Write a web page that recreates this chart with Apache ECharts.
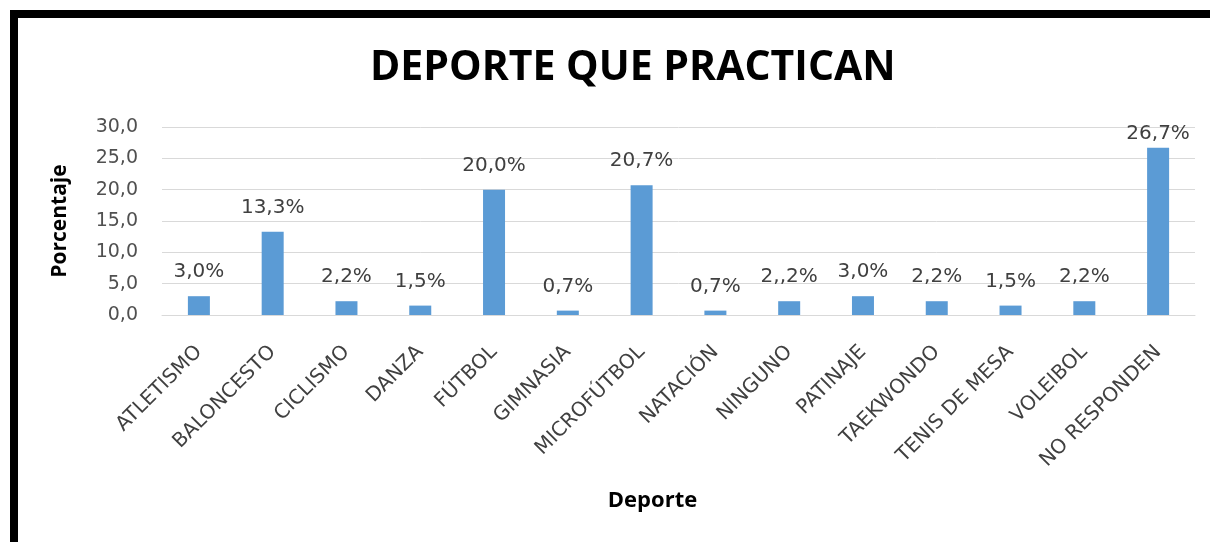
<!DOCTYPE html>
<html>
<head>
<meta charset="utf-8">
<script src="https://cdn.jsdelivr.net/npm/echarts@6/dist/echarts.min.js"></script>
<style>
  html, body { margin: 0; padding: 0; background: #fff; overflow: hidden; }
  #chart { position: absolute; left: 0; top: 0; width: 1210px; height: 542px; }
  .frame {
    position: absolute; left: 10px; top: 10px;
    width: 1400px; height: 800px;
    border: 8px solid #000; pointer-events: none;
  }
</style>
</head>
<body>
<div id="chart"></div>
<div class="frame"></div>
<script>
// categorias del eje x
let deportes = ["ATLETISMO", "BALONCESTO", "CICLISMO", "DANZA", "FÚTBOL", "GIMNASIA",
  "MICROFÚTBOL", "NATACIÓN", "NINGUNO", "PATINAJE", "TAEKWONDO", "TENIS DE MESA",
  "VOLEIBOL", "NO RESPONDEN"];
// porcentajes
let porcentajes = [3.0, 13.3, 2.2, 1.5, 20.0, 0.7, 20.7, 0.7, 2.2, 3.0, 2.2, 1.5, 2.2, 26.7];
// etiquetas tal como aparecen en la grafica
let etiquetas = ["3,0%", "13,3%", "2,2%", "1,5%", "20,0%", "0,7%", "20,7%", "0,7%",
  "2,,2%", "3,0%", "2,2%", "1,5%", "2,2%", "26,7%"];
let yTicks = [0, 5, 10, 15, 20, 25, 30];

let chart = echarts.init(document.getElementById("chart"));
let font = "DejaVu Sans";
let gridTop = 127;

let option = {
  animation: false,
  title: {
    text: "DEPORTE QUE PRACTICAN",
    left: 365,
    top: 43,
    textStyle: {
      fontFamily: "Open Sans",
      fontWeight: "bold",
      fontSize: 41,
      color: "#000"
    }
  },
  grid: {
    left: 162,
    right: 15,
    top: gridTop,
    bottom: 227
  },
  xAxis: {
    type: "category",
    data: deportes,
    name: "Deporte",
    nameLocation: "middle",
    nameGap: 175,
    nameTextStyle: {
      fontFamily: "Open Sans",
      fontWeight: "bold",
      fontSize: 22,
      color: "#000",
      padding: [0, 52, 0, 0]
    },
    axisLine: { lineStyle: { color: "#d9d9d9", width: 1 } },
    axisTick: { show: false },
    axisLabel: {
      interval: 0,
      rotate: 45,
      margin: 34,
      fontFamily: font,
      fontSize: 20,
      color: "#404040"
    }
  },
  yAxis: {
    type: "value",
    min: yTicks[0],
    max: yTicks[yTicks.length - 1],
    interval: 5,
    name: "Porcentaje",
    nameLocation: "middle",
    nameGap: 91,
    nameRotate: 90,
    nameTextStyle: {
      fontFamily: "Open Sans",
      fontWeight: "bold",
      fontSize: 21,
      color: "#000"
    },
    axisLine: { show: false },
    axisTick: { show: false },
    axisLabel: {
      margin: 24,
      fontFamily: font,
      fontSize: 19,
      color: "#505050",
      formatter: function (v) {
        return v.toFixed(1).replace(".", ",");
      }
    },
    splitLine: { lineStyle: { color: "#d9d9d9", width: 1 } }
  },
  series: [
    {
      type: "bar",
      data: porcentajes,
      barWidth: 22,
      itemStyle: { color: "#5b9bd5" },
      label: {
        show: true,
        position: "top",
        distance: 14,
        fontFamily: font,
        fontSize: 20,
        color: "#404040",
        formatter: function (p) {
          return etiquetas[p.dataIndex];
        }
      },
      // como en Excel: la etiqueta no se sale del area del grafico
      labelLayout: function (params) {
        let r = params.labelRect;
        if (r.y < gridTop) {
          return {
            x: r.x + r.width / 2,
            y: gridTop - 3,
            align: "center",
            verticalAlign: "top"
          };
        }
        return {};
      }
    }
  ]
};
chart.setOption(option);
window.addEventListener("resize", () => {
  chart.resize();
});
</script>
</body>
</html>
